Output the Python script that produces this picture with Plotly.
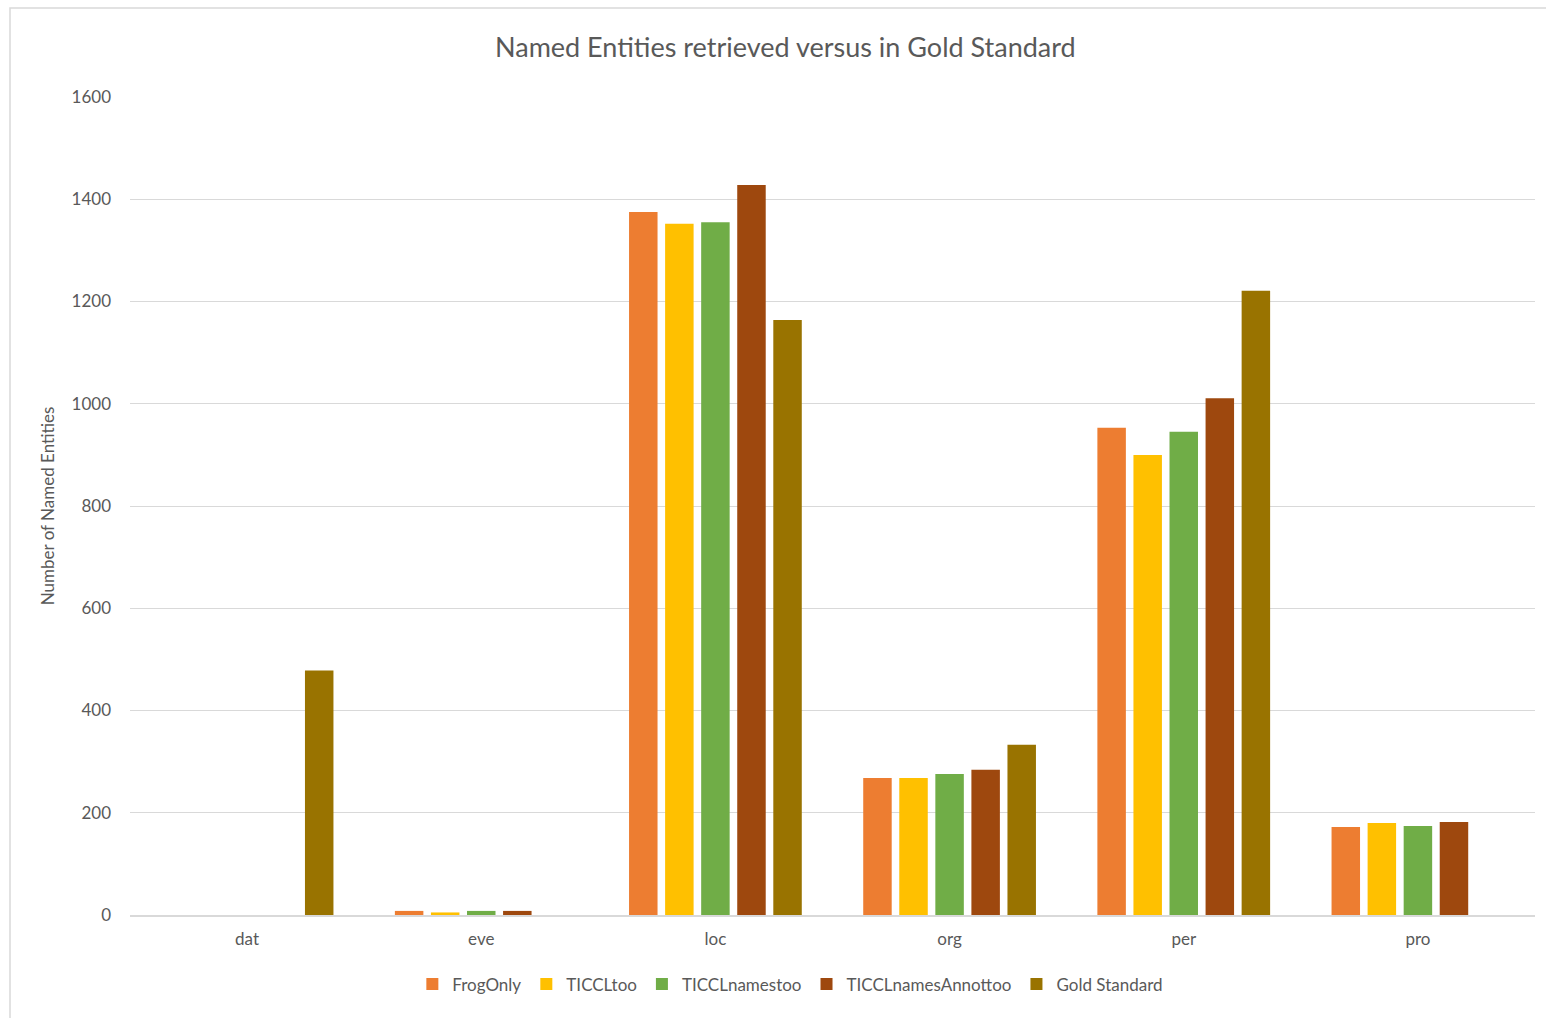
import plotly.graph_objects as go

categories = ["dat", "eve", "loc", "org", "per", "pro"]
series_names = ["FrogOnly", "TICCLtoo", "TICCLnamestoo", "TICCLnamesAnnottoo", "Gold Standard"]
frog_only = [0, 8, 1375, 268, 953, 172]
ticcl_too = [0, 5, 1352, 268, 900, 180]
ticcl_names_too = [0, 8, 1355, 276, 945, 174]
ticcl_names_annot_too = [0, 8, 1428, 284, 1011, 182]
gold_standard = [478, 0, 1164, 333, 1221, 0]
colors = ["#ED7D31", "#FFC000", "#70AD47", "#9E480E", "#997300"]

values = [frog_only, ticcl_too, ticcl_names_too, ticcl_names_annot_too, gold_standard]

fig = go.Figure()
for name, vals, col in zip(series_names, values, colors):
    fig.add_trace(go.Bar(x=categories, y=vals, name=name, marker_color=col,
                         marker_line_width=0))

font_family = "Lato, 'Open Sans', sans-serif"
fig.update_layout(
    width=1546, height=1018,
    margin=dict(l=130, r=11, t=97, b=103),
    paper_bgcolor="white", plot_bgcolor="white",
    barmode="group", bargap=0.23, bargroupgap=0.21,
    font=dict(family=font_family, color="#595959", size=17),
    title=dict(text="Named Entities retrieved versus in Gold Standard",
               x=0.508, xanchor="center", xref="container",
               y=1 - 48/1018, yanchor="middle",
               font=dict(size=27, color="#595959", family=font_family)),
    xaxis=dict(showgrid=False, showline=True, linecolor="#d9d9d9", linewidth=1.5,
               ticks="", tickfont=dict(size=17, color="#595959"), ticklabelstandoff=8),
    yaxis=dict(range=[0, 1600], dtick=200, showgrid=True, gridcolor="#d9d9d9",
               gridwidth=1, zeroline=False, showline=False, ticks="",
               tickfont=dict(size=17, color="#595959"), ticklabelstandoff=18,
               title=dict(text="Number of Named Entities", standoff=12,
                          font=dict(size=17, color="#595959"))),
    legend=dict(orientation="h", x=0.47, xanchor="center", y=-0.085, yanchor="middle",
                font=dict(size=17, color="#595959"), itemwidth=30, traceorder="normal"),
    shapes=[dict(type="rect", xref="paper", yref="paper",
                 x0=(10 - 130) / 1405, x1=1.1, y0=-0.2, y1=(915 - 8) / 818,
                 line=dict(color="#d9d9d9", width=1.5), layer="below")],
)

fig.write_html("out.html")
